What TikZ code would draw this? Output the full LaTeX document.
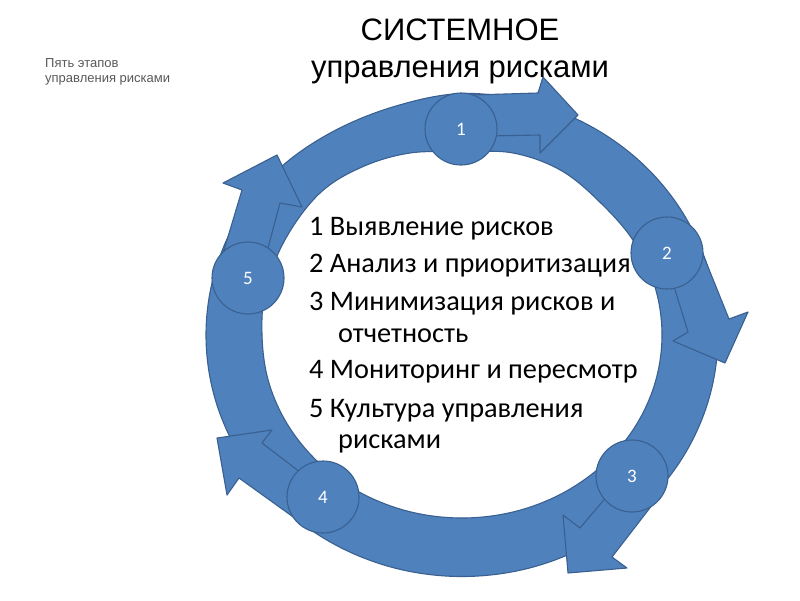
\documentclass[tikz,border=0pt]{standalone}
\usepackage{fontspec}
\setmainfont{Liberation Sans}
\newfontfamily\calfont{Carlito}
\definecolor{ringfill}{HTML}{4F81BD}
\definecolor{ringline}{HTML}{3A6090}
\definecolor{notegray}{HTML}{595959}
\begin{document}
\begin{tikzpicture}[x=1pt,y=-1pt,
  band/.style={fill=ringfill, draw=ringline, line width=1.1pt, line join=round},
  stage/.style={circle, minimum size=72pt, inner sep=0pt, fill=ringfill, draw=ringline, line width=1.1pt, text=white, font=\calfont\fontsize{19}{19}\selectfont},
  item/.style={anchor=base west, inner sep=0pt, font=\calfont\fontsize{28.3}{28.3}\selectfont},
  titletext/.style={anchor=base, inner sep=0pt, font=\fontsize{31}{31}\selectfont},
  notetext/.style={anchor=base west, inner sep=0pt, text=notegray, font=\fontsize{13}{13}\selectfont}]
\useasboundingbox (0,0) rectangle (800,600);
\fill[white] (0,0) rectangle (800,600);
% ring
\path[band, even odd rule]
  plot[smooth cycle, tension=0.6] coordinates {(718,335) (709.3,272.5) (683.7,214.3) (643,164.2) (590,125.9) (528.3,101.7) (462,93.5) (396,106) (334,131) (281,167) (240.3,214.3) (214.7,272.5) (206,335) (214.7,397.5) (240.3,455.8) (281,505.8) (334,544.1) (395.7,568.3) (462,576.5) (528.3,568.3) (590,544.1) (643,505.8) (683.7,455.8) (709.3,397.5)}
  plot[smooth cycle, tension=0.6] coordinates {(662,335) (655.2,287.6) (635.2,243.5) (603.4,205.6) (562,171) (513,153) (462,152) (410,153) (362,167) (320,193) (286,238) (266,288) (262,335) (268.8,382.4) (288.8,426.5) (320.6,464.4) (362,493.5) (410.2,511.8) (462,518) (513.8,511.8) (562,493.5) (603.4,464.4) (635.2,426.5) (655.2,382.4)};
% arrow spurs
\path[band] (488,136) -- (540,135) -- (540,153) -- (578,115) -- (543,77) -- (538,93) -- (472,95) -- cycle;
\path[band] (672,280) -- (688,332) -- (673,341) -- (725,363) -- (748,312) -- (729,319) -- (700,247) -- cycle;
\path[band] (614,488) -- (580,528) -- (563,515) -- (568,573) -- (627,568) -- (612,557) -- (656,500) -- cycle;
\path[band] (305.7,476.4) -- (262,443) -- (272,430) -- (217,438) -- (227,495) -- (239,478) -- (303,524) -- cycle;
\path[band] (264.5,261) -- (280,203) -- (302,207) -- (277,155) -- (223,183) -- (242,190) -- (220.5,261.9) -- cycle;
% stage circles
\node[stage] (s1) at (461,129) {1};
\node[stage] (s2) at (667,253) {2};
\node[stage] (s3) at (632,476) {3};
\node[stage] (s4) at (323,497) {4};
\node[stage] (s5) at (248,278) {5};
% titles
\node[titletext] (t1) at (460,40) {СИСТЕМНОЕ};
\node[titletext] (t2) at (460,77) {управления рисками};
\node[notetext] (n1) at (45,67) {Пять этапов};
\node[notetext] (n2) at (45,82) {управления рисками};
% list
\node[item] (i1) at (309,235) {1 Выявление рисков};
\node[item] (i2) at (309,272) {2 Анализ и приоритизация};
\node[item] (i3) at (309,310) {3 Минимизация рисков и};
\node[item] (i3b) at (338,342) {отчетность};
\node[item] (i4) at (309,378) {4 Мониторинг и пересмотр};
\node[item] (i5) at (309,417) {5 Культура управления};
\node[item] (i5b) at (338,448) {рисками};
\end{tikzpicture}
\end{document}
